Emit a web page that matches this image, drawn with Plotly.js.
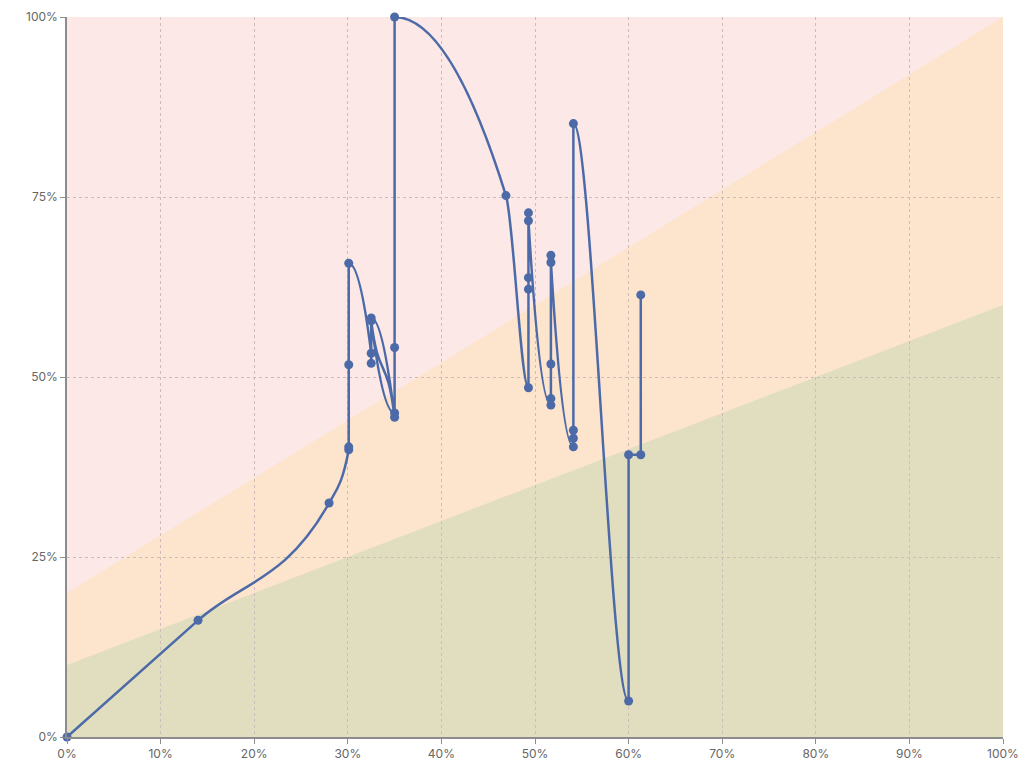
<!DOCTYPE html>
<html>
<head>
<meta charset="utf-8">
<script src="https://cdn.plot.ly/plotly-3.0.1.min.js"></script>
<style>html,body{margin:0;padding:0;background:#fff;}#chart{width:1031px;height:778px;}</style>
</head>
<body>
<div id="chart"></div>
<script>
// Series (percent values), in drawing order
const xVals = [0, 14, 28, 30.1, 30.1, 30.1, 30.1, 32.5, 32.5, 32.5, 35, 32.5, 35, 35, 35, 46.9, 49.3, 49.3, 49.3, 49.3, 49.3, 51.7, 51.7, 51.7, 51.7, 51.7, 54.1, 54.1, 54.1, 54.1, 60, 60, 61.3, 61.3];
const yVals = [0, 16.2, 32.5, 39.9, 40.3, 51.7, 65.8, 53.3, 51.9, 58.2, 44.4, 57.8, 45.0, 54.1, 100, 75.2, 48.5, 62.2, 63.8, 72.8, 71.7, 46.1, 47.0, 51.8, 66.9, 65.9, 40.3, 41.5, 42.6, 85.2, 5.0, 39.2, 39.2, 61.4];

// Background bands: boundary lines from x=0 to x=100
const bandX = [0, 100];
const greenTop = [10, 60];
const orangeTop = [20, 100];

const xTicks = [0, 10, 20, 30, 40, 50, 60, 70, 80, 90, 100];
const yTicks = [0, 25, 50, 75, 100];

const LINE_COLOR = '#4c6aa8';

function bandPath(top) {
  return 'M ' + bandX[0] + ' 0 L ' + bandX[0] + ' ' + top[0] +
         ' L ' + bandX[1] + ' ' + top[1] + ' L ' + bandX[1] + ' 0 Z';
}

// Monotone-X cubic curve (same rule as d3.curveMonotoneX), as an SVG path in data units
function monotonePath(xs, ys) {
  const sign = v => (v < 0 ? -1 : 1);
  let x0 = NaN, y0 = NaN, x1 = NaN, y1 = NaN, t0 = NaN, n = 0;
  let d = '';
  function slope3(x2, y2) {
    const h0 = x1 - x0, h1 = x2 - x1;
    const s0 = (y1 - y0) / (h0 || (h1 < 0 && -0));
    const s1 = (y2 - y1) / (h1 || (h0 < 0 && -0));
    const p = (s0 * h1 + s1 * h0) / (h0 + h1);
    return (sign(s0) + sign(s1)) * Math.min(Math.abs(s0), Math.abs(s1), 0.5 * Math.abs(p)) || 0;
  }
  function slope2(t) {
    const h = x1 - x0;
    return h ? (3 * (y1 - y0) / h - t) / 2 : t;
  }
  function seg(ta, tb) {
    const dx = (x1 - x0) / 3;
    d += ' C ' + (x0 + dx) + ' ' + (y0 + dx * ta) + ', ' + (x1 - dx) + ' ' + (y1 - dx * tb) + ', ' + x1 + ' ' + y1;
  }
  for (let i = 0; i < xs.length; i++) {
    const x = +xs[i], y = +ys[i];
    let t1 = NaN;
    if (x === x1 && y === y1) continue;
    if (n === 0) { n = 1; d += 'M ' + x + ' ' + y; }
    else if (n === 1) { n = 2; }
    else if (n === 2) { n = 3; t1 = slope3(x, y); seg(slope2(t1), t1); }
    else { t1 = slope3(x, y); seg(t0, t1); }
    x0 = x1; x1 = x; y0 = y1; y1 = y; t0 = t1;
  }
  if (n === 2) d += ' L ' + x1 + ' ' + y1;
  else if (n === 3) seg(t0, slope2(t0));
  return d;
}

const trace = {
  x: xVals, y: yVals,
  type: 'scatter', mode: 'markers',
  marker: {color: LINE_COLOR, size: 9},
  cliponaxis: false,
  hoverinfo: 'x+y'
};

const axisCommon = {
  range: [0, 100],
  showline: true, linecolor: '#8c8c8c', linewidth: 1.5,
  ticks: 'outside', ticklen: 5, tickcolor: '#8c8c8c', tickwidth: 1,
  showgrid: true, gridcolor: '#cdbcb8', griddash: '3px,3px', gridwidth: 1,
  zeroline: false,
  tickfont: {family: 'Inter, Roboto, sans-serif', size: 12, color: '#666'},
  tickmode: 'array',
  fixedrange: true
};

const layout = {
  width: 1031, height: 778,
  margin: {l: 67, r: 28, t: 17, b: 41},
  paper_bgcolor: '#ffffff',
  plot_bgcolor: '#fce8e6',
  showlegend: false,
  xaxis: Object.assign({}, axisCommon, {tickvals: xTicks, ticktext: xTicks.map(v => v + '%')}),
  yaxis: Object.assign({}, axisCommon, {tickvals: yTicks, ticktext: yTicks.map(v => v + '%')}),
  shapes: [
    {type: 'path', xref: 'x', yref: 'y', path: bandPath(orangeTop), fillcolor: '#fde4cd', line: {width: 0}, layer: 'below'},
    {type: 'path', xref: 'x', yref: 'y', path: bandPath(greenTop), fillcolor: '#e1dec0', line: {width: 0}, layer: 'below'},
    {type: 'path', xref: 'x', yref: 'y', path: monotonePath(xVals, yVals), line: {color: LINE_COLOR, width: 2.5}, fillcolor: 'rgba(0,0,0,0)', layer: 'between'}
  ]
};

Plotly.newPlot('chart', [trace], layout, {displayModeBar: false});
</script>
</body>
</html>
